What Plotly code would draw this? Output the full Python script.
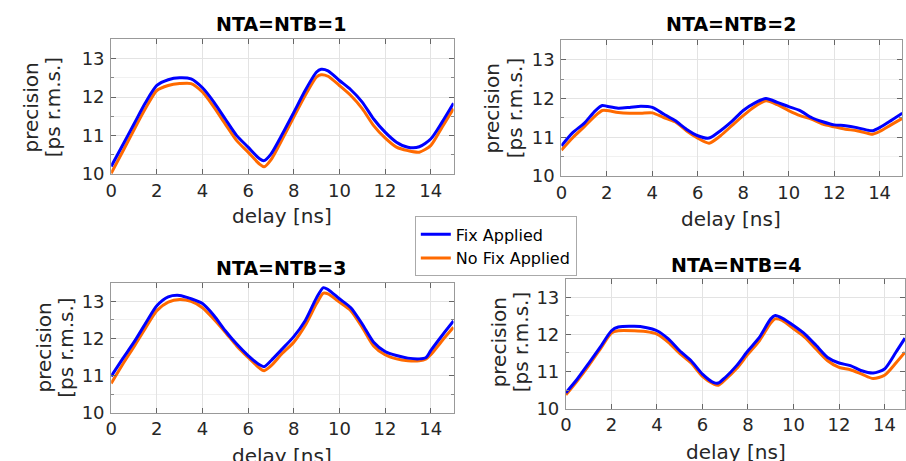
import plotly.graph_objects as go

# ---------------- data ----------------
delay_1 = [0, 0.5, 1, 1.5, 2, 2.5, 3, 3.5, 4, 4.5, 5, 5.5, 6, 6.5, 6.7, 7, 7.5, 8, 8.5, 9, 9.2, 9.5,
           10, 10.5, 11, 11.5, 12, 12.5, 13, 13.5, 14, 14.5, 15]
fix_1 = [10.2, 10.75, 11.3, 11.85, 12.3, 12.45, 12.5, 12.47, 12.24, 11.87, 11.43, 11.0, 10.7, 10.4, 10.35,
         10.52, 11.04, 11.6, 12.17, 12.65, 12.72, 12.68, 12.43, 12.19, 11.87, 11.43, 11.09, 10.83, 10.7,
         10.71, 10.91, 11.35, 11.84]
nofix_1 = [10.02, 10.58, 11.15, 11.7, 12.17, 12.3, 12.35, 12.35, 12.13, 11.74, 11.3, 10.87, 10.57, 10.26,
           10.19, 10.37, 10.91, 11.48, 12.04, 12.52, 12.58, 12.54, 12.3, 12.04, 11.7, 11.26, 10.94, 10.7,
           10.61, 10.57, 10.74, 11.22, 11.7]

delay_2 = [0, 0.5, 1, 1.5, 1.8, 2, 2.5, 3, 3.5, 4, 4.5, 5, 5.5, 6, 6.5, 7, 7.5, 8, 8.5, 9, 9.5, 10, 10.5,
           11, 11.5, 12, 12.5, 13, 13.5, 13.7, 14, 14.5, 15]
fix_2 = [10.78, 11.12, 11.36, 11.69, 11.82, 11.8, 11.75, 11.77, 11.8, 11.77, 11.6, 11.43, 11.21, 11.04,
         10.98, 11.17, 11.41, 11.69, 11.88, 12.0, 11.9, 11.79, 11.69, 11.51, 11.4, 11.32, 11.3, 11.25,
         11.18, 11.17, 11.25, 11.43, 11.62]
nofix_2 = [10.67, 10.99, 11.27, 11.56, 11.69, 11.69, 11.64, 11.62, 11.62, 11.63, 11.51, 11.4, 11.17, 10.98,
           10.85, 11.04, 11.3, 11.56, 11.79, 11.94, 11.84, 11.69, 11.56, 11.47, 11.34, 11.27, 11.21, 11.17,
           11.1, 11.08, 11.15, 11.32, 11.49]

delay_3 = [0, 0.5, 1, 1.5, 2, 2.5, 3, 3.5, 4, 4.5, 5, 5.5, 6, 6.5, 6.7, 7, 7.5, 8, 8.5, 9, 9.3, 9.5, 10,
           10.5, 11, 11.5, 12, 12.5, 13, 13.5, 13.8, 14, 14.5, 15]
fix_3 = [10.98, 11.45, 11.9, 12.4, 12.88, 13.12, 13.16, 13.07, 12.94, 12.62, 12.21, 11.85, 11.54, 11.29,
         11.24, 11.4, 11.72, 12.05, 12.48, 13.1, 13.37, 13.32, 13.07, 12.83, 12.39, 11.9, 11.65, 11.54,
         11.47, 11.45, 11.49, 11.67, 12.08, 12.47]
nofix_3 = [10.79, 11.3, 11.78, 12.28, 12.75, 12.98, 13.05, 13.0, 12.83, 12.52, 12.17, 11.8, 11.49, 11.2,
           11.13, 11.26, 11.6, 11.9, 12.35, 12.94, 13.22, 13.2, 12.98, 12.75, 12.3, 11.8, 11.56, 11.45,
           11.4, 11.4, 11.45, 11.56, 11.94, 12.3]

delay_4 = [0, 0.5, 1, 1.5, 2, 2.3, 3, 3.5, 4, 4.5, 5, 5.5, 6, 6.5, 6.7, 7, 7.5, 8, 8.5, 9, 9.2, 9.5, 10,
           10.5, 11, 11.5, 12, 12.5, 13, 13.5, 14, 14.5, 14.9]
fix_4 = [10.43, 10.8, 11.22, 11.65, 12.1, 12.2, 12.22, 12.19, 12.1, 11.88, 11.56, 11.29, 10.93, 10.7,
         10.69, 10.84, 11.16, 11.56, 11.92, 12.42, 12.51, 12.44, 12.24, 12.01, 11.7, 11.38, 11.23, 11.16,
         11.02, 10.96, 11.07, 11.52, 11.9]
nofix_4 = [10.37, 10.75, 11.16, 11.6, 12.04, 12.1, 12.1, 12.08, 12.01, 11.79, 11.49, 11.23, 10.87, 10.66,
           10.63, 10.78, 11.08, 11.47, 11.83, 12.31, 12.42, 12.38, 12.15, 11.92, 11.6, 11.29, 11.11, 11.05,
           10.93, 10.81, 10.9, 11.23, 11.52]

titles = ["NTA=NTB=1", "NTA=NTB=2", "NTA=NTB=3", "NTA=NTB=4"]
series_names = ["Fix Applied", "No Fix Applied"]
x_ticks = [0, 2, 4, 6, 8, 10, 12, 14]
y_ticks = [10, 11, 12, 13]

panels = [(delay_1, fix_1, nofix_1), (delay_2, fix_2, nofix_2),
          (delay_3, fix_3, nofix_3), (delay_4, fix_4, nofix_4)]

# ---------------- layout geometry ----------------
W = 906
H_REF = 461      # reference pixel frame used for placing elements
H = 474          # figure height
FONT = "DejaVu Sans"
TXT = "#262626"
BLUE = "#0000ff"
ORANGE = "#ff6a00"

def fy(y):
    return 1 - y / H_REF

# plot-area pixel boxes in reference frame: (left, right, top, bottom)
boxes = [(106, 451, 39, 173), (559.7, 903.3, 40, 175), (106, 451, 281, 410), (564.3, 906, 277, 406)]
x_ranges = [[0, 15], [0, 15], [0, 15], [0, 14.9]]

fig = go.Figure()

for i, (dx, fx, nf) in enumerate(panels):
    ax = "" if i == 0 else str(i + 1)
    fig.add_trace(go.Scatter(x=dx, y=nf, mode="lines", name=series_names[1],
                             line=dict(color=ORANGE, width=3, shape="spline", smoothing=0.7),
                             xaxis="x" + ax, yaxis="y" + ax, showlegend=(i == 0),
                             legendrank=2))
    fig.add_trace(go.Scatter(x=dx, y=fx, mode="lines", name=series_names[0],
                             line=dict(color=BLUE, width=3, shape="spline", smoothing=0.7),
                             xaxis="x" + ax, yaxis="y" + ax, showlegend=(i == 0),
                             legendrank=1))

layout = {}
annotations = []
for i, (l, r, t, b) in enumerate(boxes):
    key = "" if i == 0 else str(i + 1)
    layout["xaxis" + key] = dict(
        domain=[l / W, min(r / W, 1.0)], range=x_ranges[i], anchor="y" + key,
        tickvals=x_ticks, ticks="inside", ticklen=5, tickcolor="#666",
        showline=True, linecolor="#999", linewidth=1, mirror="ticks",
        showgrid=True, gridcolor="#e3e3e3", gridwidth=1, zeroline=False,
        tickfont=dict(family=FONT, size=18, color=TXT),
    )
    layout["yaxis" + key] = dict(
        domain=[fy(b), fy(t)], range=[10, 13.5], anchor="x" + key,
        tickvals=y_ticks, ticks="inside", ticklen=5, tickcolor="#666",
        showline=True, linecolor="#999", linewidth=1, mirror="ticks",
        showgrid=True, gridcolor="#e3e3e3", gridwidth=1, zeroline=False,
        tickfont=dict(family=FONT, size=18, color=TXT), ticklabelstandoff=2,
        minor=dict(dtick=0.5, ticks="inside", ticklen=3, tickcolor="#888",
                   showgrid=True, gridcolor="#f1f1f1"),
    )

title_pos = [(278, 24), (731, 24), (278, 266), (736, 263)]
xlab_pos = [(278, 215), (731, 218), (278, 453), (736, 449)]
ylab_pos = [((25, 47), 107), ((490, 513), 107.5), ((38, 60.5), 345.5), ((497, 519), 340)]

for i in range(4):
    tx, ty = title_pos[i]
    annotations.append(dict(text="<b>" + titles[i] + "</b>", x=tx / W, y=fy(ty),
                            xref="paper", yref="paper", xanchor="center", yanchor="middle",
                            showarrow=False, font=dict(family=FONT, size=19, color="#000")))
    lx, ly = xlab_pos[i]
    annotations.append(dict(text="delay [ns]", x=lx / W, y=fy(ly),
                            xref="paper", yref="paper", xanchor="center", yanchor="middle",
                            showarrow=False, font=dict(family=FONT, size=20, color=TXT)))
    (px1, px2), py = ylab_pos[i]
    for txt, px in (("precision", px1), ("[ps r.m.s.]", px2)):
        annotations.append(dict(text=txt, x=px / W, y=fy(py), textangle=-90,
                                xref="paper", yref="paper", xanchor="center", yanchor="middle",
                                showarrow=False, font=dict(family=FONT, size=20, color=TXT)))

fig.update_layout(
    width=W, height=H,
    margin=dict(l=0, r=0, t=0, b=0),
    paper_bgcolor="white", plot_bgcolor="white",
    annotations=annotations,
    legend=dict(x=412 / W, y=fy(215), xanchor="left", yanchor="top",
                bgcolor="white", bordercolor="#aaaaaa", borderwidth=1,
                font=dict(family=FONT, size=16, color="#000"),
                tracegroupgap=0, itemwidth=30),
    font=dict(family=FONT),
    **layout,
)

fig.write_html("out.html")
